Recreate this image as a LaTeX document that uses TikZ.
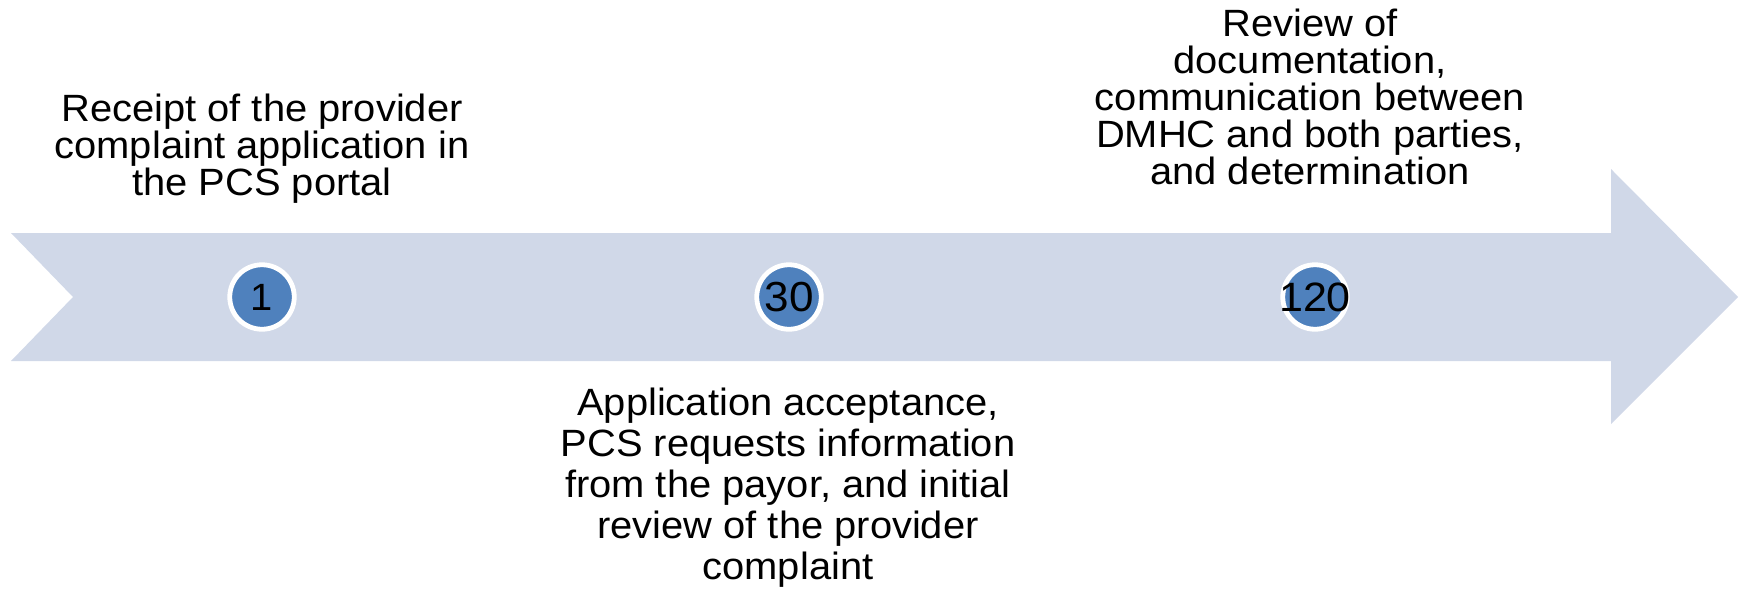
\documentclass[tikz,border=0pt]{standalone}
\usepackage{fontspec}
\setmainfont{Liberation Sans}[FakeStretch=1.05]
\usetikzlibrary{positioning}
\definecolor{shaftblue}{HTML}{D0D8E8}
\definecolor{ballblue}{HTML}{4F81BD}
\tikzset{
  dayball/.style={circle,fill=ballblue,draw=white,line width=4.8pt,
    minimum size=64.5pt,inner sep=0pt,font=\fontsize{#1}{#1}\selectfont},
  daytext/.style={align=center,inner sep=0pt,anchor=north,
    font=\fontsize{38}{#1}\selectfont}
}
\newcommand{\daymark}[3]{
  \node[dayball=#3] (day#1) at (#2,297) {\makebox[0pt]{#1}};% Ball on the arrow
}
\begin{document}
\begin{tikzpicture}[x=1pt,y=-1pt]
  \useasboundingbox (0,0) rectangle (1739,589);

  % the timeline arrow
  \fill[shaftblue] (11,233) -- (1611,233) -- (1611,169) -- (1738,297)
    -- (1611,424) -- (1611,361) -- (11,361) -- (73,297) -- cycle;

  \daymark{1}{262}{38}
  \daymark{30}{789}{42}
  \daymark{120}{1315}{41}

  \node[daytext=37] (lbl1) at (262,94)
    {Receipt of the provider\\complaint application in\\the PCS portal};
  \node[daytext=41] (lbl30) at (788,388)
    {Application acceptance,\\PCS requests information\\from the payor, and initial\\review of the provider\\complaint};
  \node[daytext=37] (lbl120) at (1310,9)
    {Review of\\documentation,\\communication between\\DMHC and both parties,\\and determination};
\end{tikzpicture}
\end{document}
